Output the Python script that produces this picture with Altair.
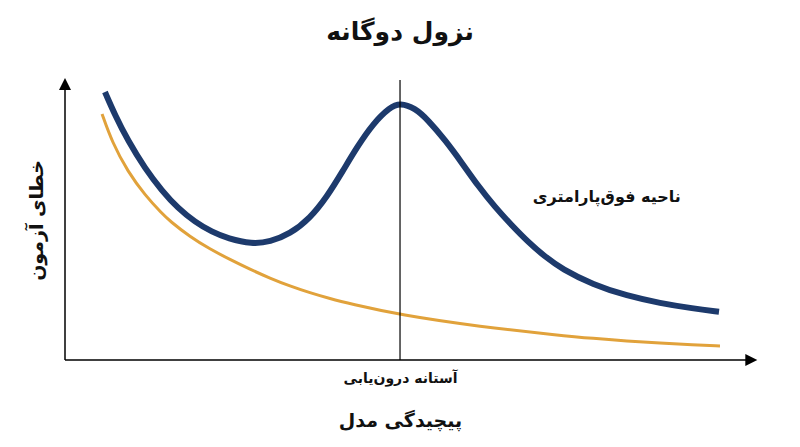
import altair as alt
import pandas as pd

FONT = "DejaVu Sans"

# Test error (double descent) curve
test_x = [5.71, 7.14, 9.0, 11.43, 13.86, 16.14, 18.57, 21.0, 23.29, 26.71, 29.29, 32.14, 35.0,
          37.43, 39.71, 41.71, 44.0, 46.43, 47.86, 50.0, 51.86, 54.29, 56.71, 59.0, 61.43,
          63.86, 66.14, 68.57, 71.0, 75.43, 80.29, 85.0, 89.71, 93.43]
test_y = [95.7, 87.5, 78.3, 68.4, 60.4, 54.2, 49.3, 45.7, 43.4, 41.4, 42.2, 45.0, 50.6,
          58.3, 67.6, 76.0, 84.4, 90.3, 91.8, 90.0, 85.7, 78.6, 70.4, 62.2, 54.6,
          48.0, 42.2, 36.9, 32.5, 26.9, 22.9, 20.3, 18.4, 17.2]

# Training error curve
train_x = [5.29, 6.71, 9.0, 11.43, 13.86, 15.0, 17.86, 20.71, 23.57, 26.43, 29.29, 32.14,
           35.0, 37.86, 40.71, 47.86, 59.29, 70.71, 75.43, 80.29, 85.0, 89.71, 93.57]
train_y = [87.9, 77.9, 67.1, 58.9, 52.3, 49.6, 44.0, 39.6, 35.9, 32.4, 29.2, 26.4,
           24.0, 21.9, 20.1, 16.1, 11.9, 8.8, 7.7, 6.8, 6.0, 5.4, 5.0]

threshold_x = 47.86
threshold_label = "آستانه درون\u200cیابی"
title_text = "نزول دوگانه"
x_title = "پیچیدگی مدل"
y_title = "خطای آزمون"
note_text = "ناحیه فوق\u200cپارامتری"
note_x, note_y = 77.4, 58.2

x_axis_end = 98.9
y_axis_end = 100.7

test_df = pd.DataFrame({"x": test_x, "y": test_y})
train_df = pd.DataFrame({"x": train_x, "y": train_y})

xs = alt.Scale(domain=[0, 100], nice=False, zero=False)
ys = alt.Scale(domain=[0, 100], nice=False, zero=False)

x_axis = alt.Axis(values=[threshold_x], labelExpr="'" + threshold_label + "'",
                  domain=False, ticks=False, grid=False, labelFont=FONT, labelFontSize=14,
                  labelFontWeight="bold", labelColor="#111111", labelPadding=11,
                  title=x_title, titleFont=FONT, titleFontSize=19, titleFontWeight="bold",
                  titleColor="#111111", titleX=335, titleY=60, titleBaseline="middle",
                  titleAnchor="middle", titleAlign="center")
y_axis = alt.Axis(domain=False, ticks=False, grid=False, labels=False,
                  title=y_title, titleFont=FONT, titleFontSize=19, titleFontWeight="bold",
                  titleColor="#111111", titleX=-29, titleY=140, titleAngle=270,
                  titleBaseline="middle", titleAlign="center")

base_axes = alt.Chart(pd.DataFrame({"x": [0], "y": [0]})).mark_point(opacity=0).encode(
    x=alt.X("x:Q", scale=xs, axis=x_axis),
    y=alt.Y("y:Q", scale=ys, axis=y_axis),
)

# axis lines
xline = alt.Chart(pd.DataFrame({"x": [0], "x2": [x_axis_end - 1.2], "y": [0]})).mark_rule(
    color="black", strokeWidth=1.5).encode(x=alt.X("x:Q", scale=xs), x2="x2:Q", y=alt.Y("y:Q", scale=ys))
yline = alt.Chart(pd.DataFrame({"x": [0], "y": [0], "y2": [y_axis_end - 3]})).mark_rule(
    color="black", strokeWidth=1.5).encode(x=alt.X("x:Q", scale=xs), y=alt.Y("y:Q", scale=ys), y2="y2:Q")

# arrowheads
up_arrow = alt.Chart(pd.DataFrame({"x": [0], "y": [y_axis_end]})).mark_point(
    shape="M0,0L0.5,1L-0.5,1Z", size=576, filled=True, color="black", opacity=1).encode(
    x=alt.X("x:Q", scale=xs), y=alt.Y("y:Q", scale=ys))
right_arrow = alt.Chart(pd.DataFrame({"x": [x_axis_end], "y": [0]})).mark_point(
    shape="M0,0L-1,0.5L-1,-0.5Z", size=576, filled=True, color="black", opacity=1).encode(
    x=alt.X("x:Q", scale=xs), y=alt.Y("y:Q", scale=ys))

# threshold line
vline = alt.Chart(pd.DataFrame({"x": [threshold_x], "y": [0], "y2": [100]})).mark_rule(
    color="black", strokeWidth=1.2).encode(x=alt.X("x:Q", scale=xs), y=alt.Y("y:Q", scale=ys), y2="y2:Q")

train_line = alt.Chart(train_df).mark_line(color="#E1A23B", strokeWidth=3, interpolate="basis").encode(
    x=alt.X("x:Q", scale=xs), y=alt.Y("y:Q", scale=ys))
test_line = alt.Chart(test_df).mark_line(color="#1D3A6C", strokeWidth=6, interpolate="basis").encode(
    x=alt.X("x:Q", scale=xs), y=alt.Y("y:Q", scale=ys))

note = alt.Chart(pd.DataFrame({"x": [note_x], "y": [note_y], "t": [note_text]})).mark_text(
    font=FONT, fontSize=16, fontWeight="bold", color="#111111", align="center", baseline="middle").encode(
    x=alt.X("x:Q", scale=xs), y=alt.Y("y:Q", scale=ys), text="t:N")

chart = alt.layer(base_axes, train_line, test_line, vline, xline, yline, up_arrow, right_arrow, note).properties(
    width=700, height=280,
    autosize=alt.AutoSizeParams(type="none"),
    padding={"left": 57, "top": 72, "right": 27, "bottom": 79},
    title=alt.TitleParams(title_text, font=FONT, fontSize=25, fontWeight="bold", color="#111111",
                          anchor="middle", dx=-15, offset=33),
).configure(background="white").configure_view(stroke="transparent", strokeWidth=0)

chart.save("out.html", embed_options={"renderer": "svg", "actions": False})
